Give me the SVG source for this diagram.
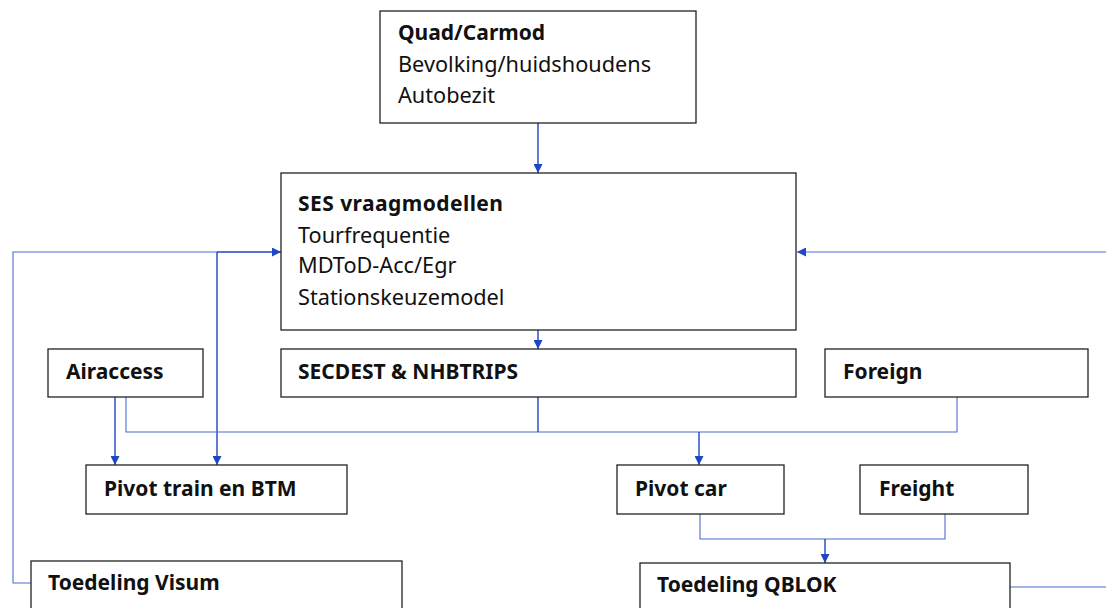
<svg xmlns="http://www.w3.org/2000/svg" width="1106" height="608" viewBox="0 0 1106 608">
<defs>
<style>
.box{fill:#fff;stroke:#222;stroke-width:1.3}
.t{font-family:"Noto Sans","Open Sans",sans-serif;font-size:21.7px;fill:#111}
.b{font-weight:bold;font-size:21px}
.c{fill:none;stroke:#1f47c0;stroke-width:1.4}
.l{fill:none;stroke:#4a6fd0;stroke-width:1.1}
</style>
<marker id="ah" viewBox="0 0 10 10" refX="10" refY="5" markerWidth="9" markerHeight="9" markerUnits="userSpaceOnUse" orient="auto"><path d="M0,0 L10,5 L0,10 z" fill="#1f47c0"/></marker>
</defs>
<rect width="1106" height="608" fill="#fff"/>
<g id="connectors">
<path class="c" d="M538,123 V173" marker-end="url(#ah)"/>
<path class="c" d="M538,330 V349" marker-end="url(#ah)"/>
<path class="l" d="M31,583 H13 V252 H217"/>
<path class="c" d="M217,252 H281" marker-end="url(#ah)"/>
<path class="c" d="M217,252 V465" marker-end="url(#ah)"/>
<path class="l" d="M1010,587 H1106"/>
<path class="l" d="M1106,252 H797" marker-end="url(#ah)"/>
<path class="c" d="M115,397 V465" marker-end="url(#ah)"/>
<path class="l" d="M126,397 V432 H957 V397"/>
<path class="c" d="M538,397 V432"/>
<path class="c" d="M699,432 V465" marker-end="url(#ah)"/>
<path class="l" d="M700,514 V539 H945 V514"/>
<path class="c" d="M825,539 V563" marker-end="url(#ah)"/>
</g>
<g id="quad"><rect class="box" x="380" y="11" width="316" height="112"/>
<text class="t"><tspan class="b" x="398" y="40">Quad/Carmod</tspan><tspan x="398" y="72">Bevolking/huidshoudens</tspan><tspan x="398" y="103">Autobezit</tspan></text></g>
<g id="ses"><rect class="box" x="281" y="173" width="515" height="157"/>
<text class="t"><tspan class="b" x="298" y="211" textLength="205">SES vraagmodellen</tspan><tspan x="298" y="243">Tourfrequentie</tspan><tspan x="298" y="273">MDToD-Acc/Egr</tspan><tspan x="298" y="305">Stationskeuzemodel</tspan></text></g>
<g id="airaccess"><rect class="box" x="48" y="349" width="155" height="48"/><text class="t b" x="66" y="379">Airaccess</text></g>
<g id="secdest"><rect class="box" x="281" y="349" width="515" height="48"/><text class="t b" x="298" y="379">SECDEST &amp; NHBTRIPS</text></g>
<g id="foreign"><rect class="box" x="825" y="349" width="263" height="48"/><text class="t b" x="843" y="379">Foreign</text></g>
<g id="pivottrain"><rect class="box" x="86" y="465" width="261" height="49"/><text class="t b" x="104" y="496">Pivot train en BTM</text></g>
<g id="pivotcar"><rect class="box" x="617" y="465" width="167" height="49"/><text class="t b" x="635" y="496">Pivot car</text></g>
<g id="freight"><rect class="box" x="860" y="465" width="168" height="49"/><text class="t b" x="879" y="496">Freight</text></g>
<g id="visum"><rect class="box" x="31" y="561" width="371" height="60"/><text class="t b" x="48" y="590">Toedeling Visum</text></g>
<g id="qblok"><rect class="box" x="640" y="563" width="370" height="60"/><text class="t b" x="657" y="592">Toedeling QBLOK</text></g>
</svg>
